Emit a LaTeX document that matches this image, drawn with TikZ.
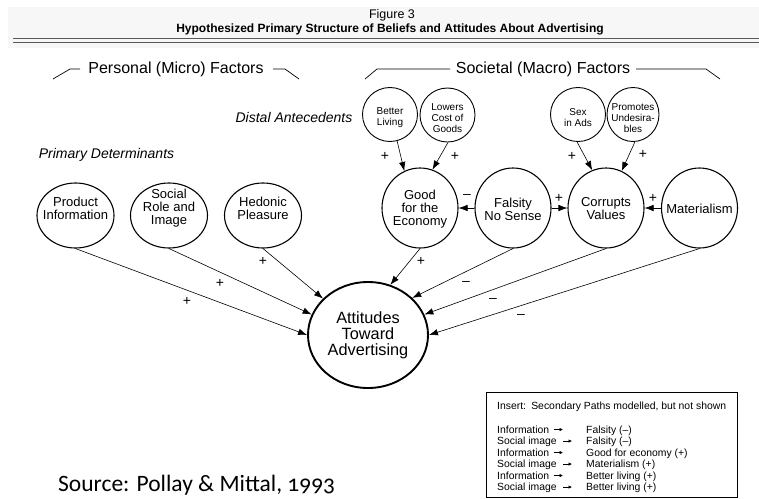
\documentclass[tikz,border=0pt]{standalone}
\usepackage{fontspec}
\setmainfont{Liberation Sans}
\newfontfamily\srcfont[Numbers=OldStyle]{Carlito}
\usetikzlibrary{arrows.meta,shapes.geometric}
\begin{document}
\begin{tikzpicture}[x=1pt,y=-1pt,
  circA/.style={draw, ellipse, line width=1.1pt, inner sep=0pt, minimum width=77pt, minimum height=65pt},
  circB/.style={draw, ellipse, line width=1.1pt, inner sep=0pt, minimum width=76pt, minimum height=80pt},
  circS/.style={draw, ellipse, line width=0.9pt, inner sep=0pt, minimum width=55pt, minimum height=54pt},
  ctext/.style={align=center, inner sep=0pt, font=\fontsize{13}{13}\selectfont},
  stext/.style={align=center, inner sep=0pt, font=\fontsize{10}{11}\selectfont},
  arr/.style={line width=0.6pt, -{Latex[length=9pt,width=6.5pt]}},
  sign/.style={inner sep=0pt, font=\fontsize{14}{14}\selectfont},
  ins/.style={inner sep=0pt, anchor=base west, font=\fontsize{10.4}{11}\selectfont},
  insarr/.style={line width=0.6pt, -{Latex[length=3.5pt,width=3.5pt]}},
]
\useasboundingbox (0,0) rectangle (759,498);
\fill[gray!6] (8,7) rectangle (759,48);
% header
\node[inner sep=0pt, font=\fontsize{12.5}{13}\selectfont] (fig) at (392,15) {Figure 3};
\node[inner sep=0pt, font=\fontsize{12}{13}\selectfont\bfseries] (title) at (390,29) {Hypothesized Primary Structure of Beliefs and Attitudes About Advertising};
\coordinate (dl1a) at (13,38); \coordinate (dl1b) at (759,38);
\coordinate (dl2a) at (13,42); \coordinate (dl2b) at (759,42);
\draw[line width=0.8pt, gray!70!black] (dl1a) -- (dl1b);
\draw[line width=0.8pt, gray!70!black] (dl2a) -- (dl2b);
% group headings
\node[inner sep=0pt, anchor=base, font=\fontsize{16}{16}\selectfont] (pers) at (176,73) {Personal (Micro) Factors};
\node[inner sep=0pt, anchor=base, font=\fontsize{16}{16}\selectfont] (soc) at (543,73) {Societal (Macro) Factors};
\coordinate (p1) at (53,79); \coordinate (p2) at (70,69); \coordinate (p3) at (80,69);
\coordinate (p4) at (273,69); \coordinate (p5) at (285,69); \coordinate (p6) at (299,79);
\coordinate (q1) at (365,79); \coordinate (q2) at (377,69); \coordinate (q3) at (450,69);
\coordinate (q4) at (636,69); \coordinate (q5) at (706,69); \coordinate (q6) at (720,79);
\draw[line width=0.7pt] (p1) -- (p2) -- (p3);
\draw[line width=0.7pt] (p4) -- (p5) -- (p6);
\draw[line width=0.7pt] (q1) -- (q2) -- (q3);
\draw[line width=0.7pt] (q4) -- (q5) -- (q6);
\node[inner sep=0pt, font=\fontsize{14}{14}\selectfont\itshape] (dist) at (294,117) {Distal Antecedents};
\node[inner sep=0pt, font=\fontsize{14}{14}\selectfont\itshape] (prim) at (106.5,155) {Primary Determinants};
% distal circles
\node[circS] (bl) at (390,114.5) {};
\node[stext] (blt) at (390,117.5) {Better\\Living};
\node[circS] (lc) at (447.5,115) {};
\node[stext] (lct) at (447.5,118) {Lowers\\Cost of\\Goods};
\node[circS] (sx) at (578,114.5) {};
\node[stext] (sxt) at (578,117.5) {Sex\\in Ads};
\node[circS, minimum width=52pt] (pu) at (633,114.5) {};
\node[stext] (put) at (633,118) {Promotes\\Undesira-\\bles};
% primary row left
\node[circA] (pi) at (75.5,215.5) {};
\node[ctext] (pit) at (75.5,208.5) {Product\\Information};
\node[circA] (sr) at (169,215.5) {};
\node[ctext] (srt) at (169,208.5) {Social\\Role and\\Image};
\node[circA] (hp) at (263,215.5) {};
\node[ctext] (hpt) at (263,208.5) {Hedonic\\Pleasure};
% primary row right
\node[circB] (ge) at (420,208) {};
\node[ctext] (get) at (420,209) {Good\\for the\\Economy};
\node[circB] (fs) at (513,208) {};
\node[ctext] (fst) at (513,209) {Falsity\\No Sense};
\node[circB] (cv) at (606,208) {};
\node[ctext] (cvt) at (606,209) {Corrupts\\Values};
\node[circB] (mt) at (699.5,208) {};
\node[ctext] (mtt) at (699.5,209) {Materialism};
% attitudes
\node[draw, ellipse, line width=1.9pt, inner sep=0pt, minimum width=120pt, minimum height=106pt] (att) at (368,335) {};
\node[align=center, inner sep=0pt, font=\fontsize{16.3}{16}\selectfont] (attt) at (368,335) {Attitudes\\Toward\\Advertising};
% distal arrows
\draw[arr] (bl.285) -- (ge.113);
\draw[arr] (lc.271) -- (ge.72);
\draw[arr] (sx.268) -- (cv.110);
\draw[arr] (pu.274) -- (cv.67);
\node[sign] (d1) at (385,156) {+};
\node[sign] (d2) at (455,156) {+};
\node[sign] (d3) at (572,156) {+};
\node[sign] (d4) at (643,154) {+};
% horizontal arrows
\draw[arr] (fs.west) -- (ge.east);
\draw[arr] (fs.east) -- (cv.west);
\draw[arr] (mt.west) -- (cv.east);
\node[sign] (h1) at (467,196) {–};
\node[sign] (h2) at (559,198) {+};
\node[sign] (h3) at (653,198) {+};
% arrows to attitudes
\draw[arr] (pi.south) -- (att.180);
\draw[arr] (sr.south) -- (att.160);
\draw[arr] (hp.south) -- (att.141);
\draw[arr] (ge.south) -- (att.66);
\draw[arr] (fs.south) -- (att.40);
\draw[arr] (cv.south) -- (att.20);
\draw[arr] (mt.south) -- (att.0);
\node[sign] (a1) at (263,261) {+};
\node[sign] (a2) at (220,283) {+};
\node[sign] (a3) at (187,301) {+};
\node[sign] (a4) at (421,261) {+};
\node[sign] (a5) at (466,283) {–};
\node[sign] (a6) at (493,300) {–};
\node[sign] (a7) at (521,316) {–};
% insert box
\node[draw, line width=0.9pt, inner sep=0pt, minimum width=251pt, minimum height=105pt, anchor=north west] (box) at (486,392) {};
\node[ins] (i0) at (497,409) {Insert:\hspace{0.5em}Secondary Paths modelled, but not shown};
\node[ins] (i1a) at (497,433) {Information};
\node[ins] (i1c) at (586,433) {Falsity (–)};
\node[ins] (i2a) at (497,444.5) {Social image};
\node[ins] (i2c) at (586,444.5) {Falsity (–)};
\node[ins] (i3a) at (497,456) {Information};
\node[ins] (i3c) at (586,456) {Good for economy (+)};
\node[ins] (i4a) at (497,467.5) {Social image};
\node[ins] (i4c) at (586,467.5) {Materialism (+)};
\node[ins] (i5a) at (497,479) {Information};
\node[ins] (i5c) at (586,479) {Better living (+)};
\node[ins] (i6a) at (497,490.5) {Social image};
\node[ins] (i6c) at (586,490.5) {Better living (+)};
\coordinate (r1s) at (554,429.5); \coordinate (r1e) at (563,429.5);
\coordinate (r2s) at (563,441); \coordinate (r2e) at (572,441);
\coordinate (r3s) at (554,452.5); \coordinate (r3e) at (563,452.5);
\coordinate (r4s) at (563,464); \coordinate (r4e) at (572,464);
\coordinate (r5s) at (554,475.5); \coordinate (r5e) at (563,475.5);
\coordinate (r6s) at (563,487); \coordinate (r6e) at (572,487);
\draw[insarr] (r1s) -- (r1e);
\draw[insarr] (r2s) -- (r2e);
\draw[insarr] (r3s) -- (r3e);
\draw[insarr] (r4s) -- (r4e);
\draw[insarr] (r5s) -- (r5e);
\draw[insarr] (r6s) -- (r6e);
% source
\node[inner sep=0pt, anchor=west, font=\srcfont\fontsize{23.5}{24}\selectfont] (src) at (58,485) {Source: Pollay \& Mittal, 1993};
\end{tikzpicture}
\end{document}
